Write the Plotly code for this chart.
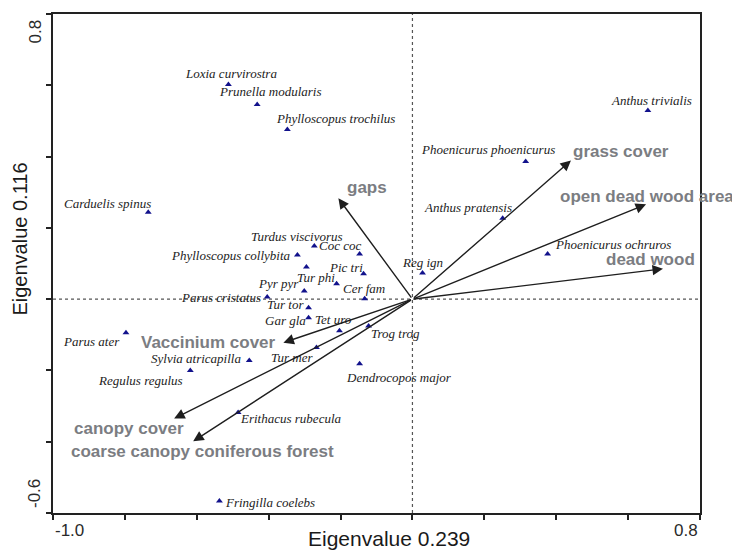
import plotly.graph_objects as go

# ---- species scores (axis 1, axis 2) ----
species = ["Loxia curvirostra", "Prunella modularis", "Phylloscopus trochilus", "Carduelis spinus",
           "Anthus trivialis", "Phoenicurus phoenicurus", "Anthus pratensis", "Phoenicurus ochruros",
           "Reg ign", "Turdus viscivorus", "Coc coc", "Phylloscopus collybita", "", "Pic tri",
           "Tur phi", "Pyr pyr", "Cer fam", "Parus cristatus", "Tur tor", "Gar gla", "Tet uro",
           "Trog trog", "Tur mer", "Dendrocopos major", "Parus ater", "Sylvia atricapilla",
           "Regulus regulus", "Erithacus rubecula", "Fringilla coelebs"]
sp_x = [-0.512, -0.432, -0.348, -0.735, 0.655, 0.315, 0.251, 0.376, 0.028, -0.273, -0.147, -0.320,
        -0.295, -0.136, -0.211, -0.301, -0.133, -0.404, -0.289, -0.289, -0.203, -0.122, -0.267,
        -0.147, -0.797, -0.454, -0.618, -0.485, -0.537]
sp_y = [0.602, 0.546, 0.476, 0.244, 0.529, 0.386, 0.227, 0.127, 0.073, 0.149, 0.127, 0.124,
        0.090, 0.071, 0.043, 0.023, 0.001, 0.006, -0.024, -0.052, -0.089, -0.075, -0.136,
        -0.181, -0.094, -0.172, -0.200, -0.318, -0.566]

# ---- environmental vectors ----
env = ["gaps", "grass cover", "open dead wood area", "dead wood", "Vaccinium cover",
       "canopy cover", "coarse canopy coniferous forest"]
env_x = [-0.206, 0.441, 0.650, 0.697, -0.359, -0.663, -0.610]
env_y = [0.283, 0.389, 0.266, 0.085, -0.122, -0.335, -0.399]

# ---- axes ----
x_range = [-1.0, 0.8]
y_range = [-0.6, 0.8]
x_ticks = [-1.0, -0.8, -0.6, -0.4, -0.2, 0.0, 0.2, 0.4, 0.6, 0.8]
y_ticks = [-0.6, -0.4, -0.2, 0.0, 0.2, 0.4, 0.6, 0.8]
x_tick_labels = ["-1.0", "0.8"]
y_tick_labels = ["-0.6", "0.8"]
x_title = "Eigenvalue 0.239"
y_title = "Eigenvalue 0.116"

# label offsets in pixels (dx right, dy down) relative to the point
sp_off = [(3, -11), (13, -13), (48, -11), (-41, -9), (4, -10), (-38, -12), (-35, -11), (65, -9),
          (0, -11), (-17, -10), (-20, -8), (-66, 1), (0, 0), (-18, -6), (-21, -6), (-26, -7),
          (-1, -10), (-46, 0), (-23, -3), (-23, 3), (-6, -11), (27, 8), (-24, 10), (39, 14),
          (-34, 9), (-53, -2), (-50, 10), (53, 6), (51, 2)]
env_off = [(7, -11), (0, -9), (-88, -8), (-59, -9), (-144, 0), (-102, 10), (-124, 10)]

fig = go.Figure()

fig.add_trace(go.Scatter(
    x=sp_x, y=sp_y, mode="markers",
    marker=dict(symbol="triangle-up", size=6, color="#12128c"),
    hovertext=species, showlegend=False))

annotations = []
for name, x, y, (dx, dy) in zip(species, sp_x, sp_y, sp_off):
    if not name:
        continue
    annotations.append(dict(
        x=x, y=y, xref="x", yref="y", text="<i>" + name + "</i>", showarrow=False,
        xanchor="center", yanchor="middle", xshift=dx, yshift=-dy,
        font=dict(family="Liberation Serif", size=13, color="#1c1c1c")))

for name, x, y, (dx, dy) in zip(env, env_x, env_y, env_off):
    annotations.append(dict(
        x=x, y=y, ax=0, ay=0, xref="x", yref="y", axref="x", ayref="y", text="",
        showarrow=True, arrowhead=2, arrowsize=1.5, arrowwidth=1.4, arrowcolor="#1e1e1e"))
    annotations.append(dict(
        x=x, y=y, xref="x", yref="y", text="<b>" + name + "</b>", showarrow=False,
        xanchor="left", yanchor="middle", xshift=dx, yshift=-dy,
        font=dict(family="Liberation Sans", size=17, color="#7b7d82")))

# tick labels placed inside the axis extent, like the original
annotations.append(dict(x=x_ticks[0], y=0, xref="x", yref="paper", text=x_tick_labels[0],
                        showarrow=False, xanchor="left", yanchor="top", yshift=-6,
                        font=dict(family="Liberation Sans", size=17, color="#2a2a2a")))
annotations.append(dict(x=x_ticks[-1], y=0, xref="x", yref="paper", text=x_tick_labels[1],
                        showarrow=False, xanchor="right", yanchor="top", yshift=-6,
                        font=dict(family="Liberation Sans", size=17, color="#2a2a2a")))
annotations.append(dict(x=0, y=y_ticks[0], xref="paper", yref="y", text=y_tick_labels[0],
                        showarrow=False, xanchor="right", yanchor="bottom", xshift=-7, yshift=3,
                        textangle=-90,
                        font=dict(family="Liberation Sans", size=17, color="#2a2a2a")))
annotations.append(dict(x=0, y=y_ticks[-1], xref="paper", yref="y", text=y_tick_labels[1],
                        showarrow=False, xanchor="right", yanchor="top", xshift=-7, yshift=-4,
                        textangle=-90,
                        font=dict(family="Liberation Sans", size=17, color="#2a2a2a")))
# axis titles
annotations.append(dict(x=0.52, y=0, xref="paper", yref="paper", text=x_title, showarrow=False,
                        xanchor="center", yanchor="top", yshift=-12,
                        font=dict(family="Liberation Sans", size=21, color="#1a1a1a")))
annotations.append(dict(x=0, y=0.55, xref="paper", yref="paper", text=y_title, showarrow=False,
                        xanchor="right", yanchor="middle", xshift=-20, textangle=-90,
                        font=dict(family="Liberation Sans", size=20, color="#1a1a1a")))

shapes = [
    dict(type="line", xref="x", yref="y", x0=0, x1=0, y0=y_range[0], y1=y_range[1],
         line=dict(color="#555", width=1.2, dash="dot"), layer="below"),
    dict(type="line", xref="x", yref="y", x0=x_range[0], x1=x_range[1], y0=0, y1=0,
         line=dict(color="#555", width=1.2, dash="dot"), layer="below"),
]

axis_common = dict(showgrid=False, zeroline=False, showline=True, linecolor="#222",
                   linewidth=2, mirror=True, ticks="outside", ticklen=5, tickwidth=1.5,
                   tickcolor="#222", showticklabels=False)

fig.update_layout(
    width=732, height=551,
    margin=dict(l=53, r=32, t=12, b=38),
    paper_bgcolor="white", plot_bgcolor="white",
    xaxis=dict(range=x_range, tickvals=x_ticks, **axis_common),
    yaxis=dict(range=y_range, tickvals=y_ticks, **axis_common),
    annotations=annotations, shapes=shapes, showlegend=False,
)

fig.write_html("out.html")
